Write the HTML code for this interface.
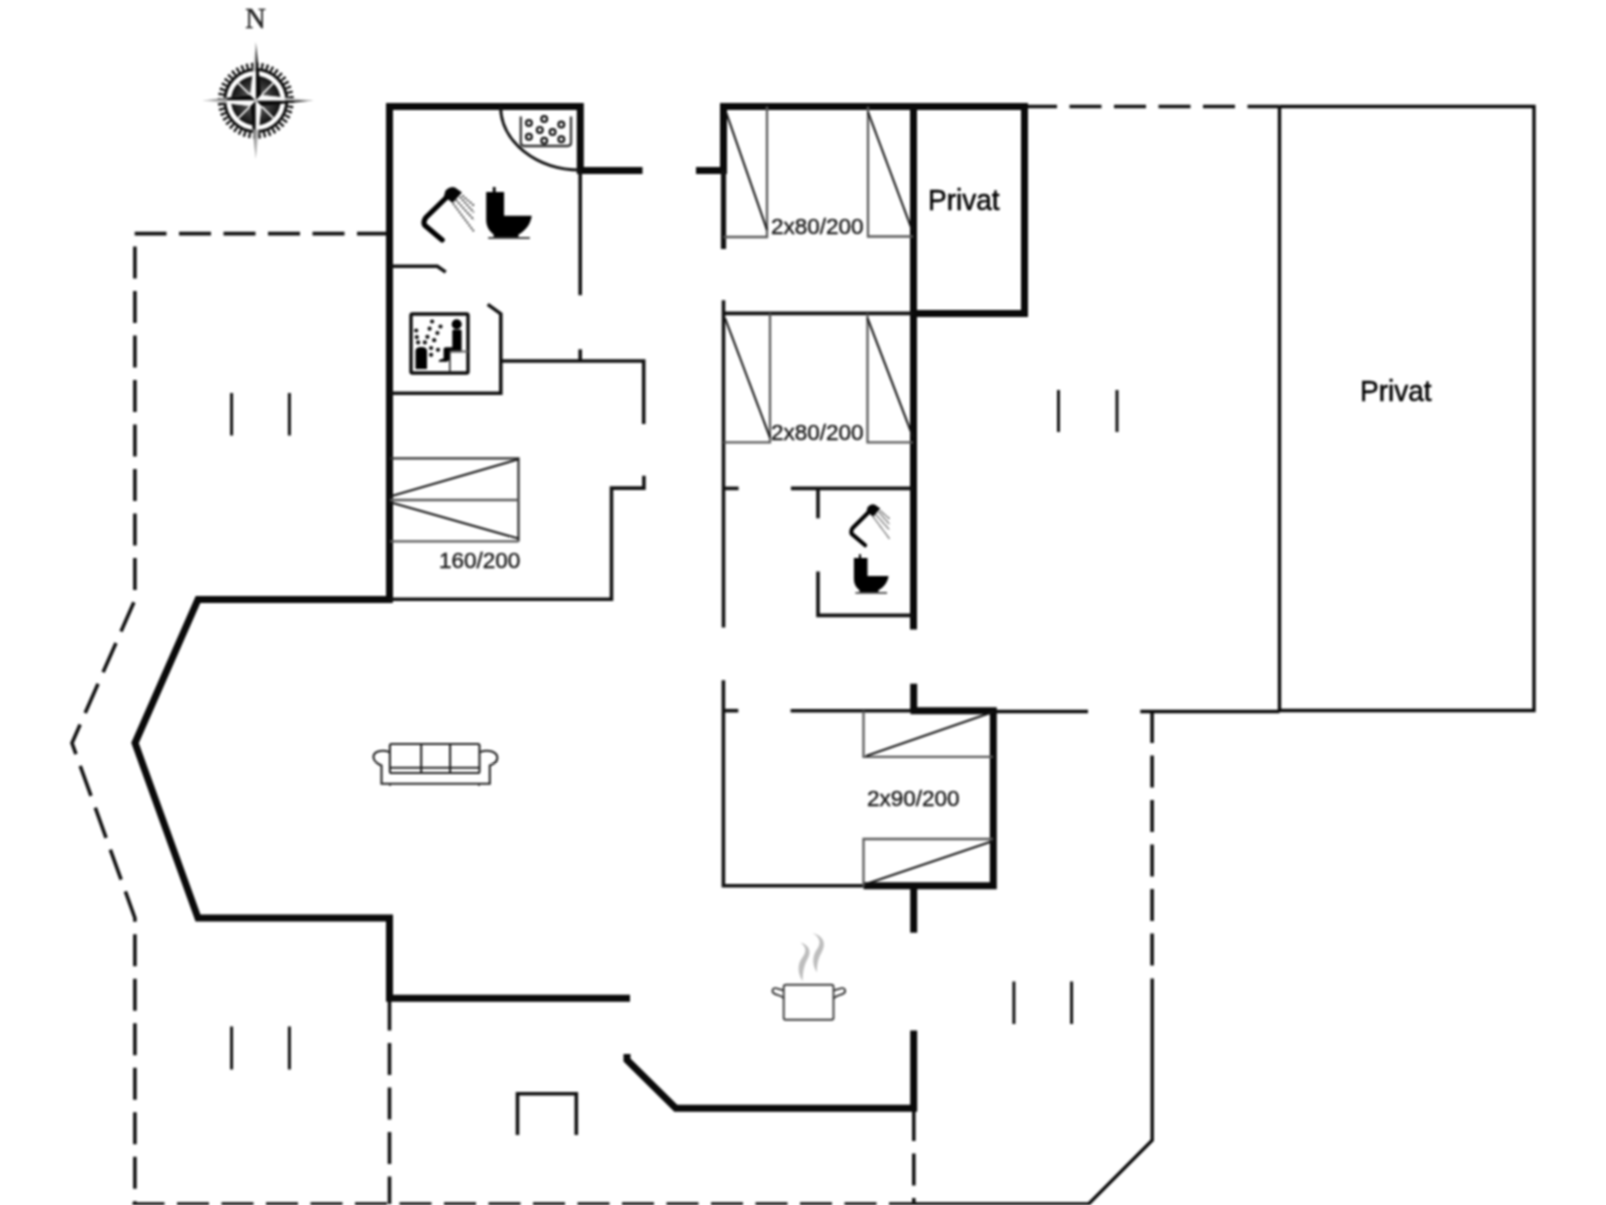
<!DOCTYPE html>
<html><head><meta charset="utf-8"><style>
html,body{margin:0;padding:0;background:#fff;width:1606px;height:1205px;overflow:hidden}
svg{display:block}
#wrap{filter:blur(1px)}
text{font-family:"Liberation Sans",sans-serif}
</style></head><body><div id="wrap">
<svg width="1606" height="1205" viewBox="0 0 1606 1205">
<rect width="1606" height="1205" fill="#fff"/>
<!-- dashed terrace outlines -->
<g fill="none" stroke="#111" stroke-width="3.6" stroke-dasharray="32 12.5" stroke-linejoin="miter">
<path d="M389,233.6 H134.7"/>
<path d="M134.9,246.5 V600 L72,743 L134.9,918 V1204"/>
<path d="M132.5,1204 H913.8"/>
<path d="M389.5,998.5 V1204"/>
<path d="M913.8,1109 V1204"/>
<path d="M1152.1,711 V978"/>
<path d="M1025,106.5 H1279.5"/>
</g>
<!-- solid thin outline -->
<g fill="none" stroke="#0a0a0a" stroke-width="3.4">
<path d="M913.8,1204 H1088.6 L1152.2,1140.3 V978.5"/>
<path d="M1279.5,106.5 H1534 V710.5 H1279.5 V106.5"/>
<path d="M993,711.5 H1088"/>
<path d="M1140.3,711.5 H1279.5"/>
</g>
<!-- thick walls -->
<g fill="none" stroke="#0a0a0a" stroke-width="7" stroke-linejoin="miter" stroke-linecap="butt">
<path d="M389.5,602.5 V106.5 H580.3 V170.5 H642.5"/>
<path d="M696,170.5 H723.5 V106.5 H1024.5 V313.5 H913.5"/>
<path d="M913.5,106.5 V629.5"/>
<path d="M723.5,103.5 V170.5"/>
<path d="M392.5,599.5 H198 L135,743 L198,918 H389.5 V998.3 H630"/>
<path d="M627,1054 V1060 L675.8,1108.3 H913.7 V1030.6"/>
<path d="M913.7,683.7 V710.7"/>
<path d="M913.7,886 V932.7"/>
<path d="M910.5,710.7 H993.3 V885.8 H863.5"/>
</g>
<!-- medium/thin walls -->
<g fill="none" stroke="#111" stroke-width="3.6" stroke-linejoin="miter">
<path d="M723.5,170.5 V249" stroke-width="5.2"/>
<path d="M580.2,170.5 V295.2"/>
<path d="M580.2,349.3 V361"/>
<path d="M390,266.2 H437.3 L445.7,272.1"/>
<path d="M487.7,304.4 L500.8,313.8 V393.2 H390"/>
<path d="M500.8,361 H643.7 V424"/>
<path d="M390,599.3 H611.5 V488.1 H643.9 V475.7"/>
<path d="M723.5,313.4 H913.5"/>
<path d="M723.5,300.3 V627.6"/>
<path d="M723.5,488.4 H738.6"/>
<path d="M790.9,488.4 H913"/>
<path d="M818,488.4 V518.3"/>
<path d="M818,571.5 V615.4 H913"/>
<path d="M723.4,680.3 V885.8 H863.5"/>
<path d="M723.4,710.7 H738.3"/>
<path d="M790.6,710.7 H911"/>
<path d="M517.5,1135 V1093.8 H576.3 V1135"/>
</g>
<!-- ticks -->
<g stroke="#111" stroke-width="3">
<path d="M231.6,393 V435.5 M289.4,393 V435.5"/>
<path d="M1058.5,390 V432 M1117,390 V432"/>
<path d="M231.6,1026.6 V1069.6 M289.4,1026.6 V1069.6"/>
<path d="M1013.9,981.5 V1024 M1071.6,981.5 V1024"/>
</g>
<!-- whirlpool arc -->
<path d="M500.6,106.5 A79.7,63.5 0 0 0 580.3,170" fill="none" stroke="#111" stroke-width="3"/>
<!-- beds -->
<g fill="none" stroke="#5a5a5a" stroke-width="2.3">
<path d="M767,106.5 V237 H723.5"/>
<path d="M726,112 L767,230" stroke="#151515" stroke-width="2.1"/>
<path d="M868,106.5 V236.5 H913"/>
<path d="M868,112 L912,230" stroke="#151515" stroke-width="2.1"/>
<path d="M770,313.4 V442.3 H723.5"/>
<path d="M725,318 L770,437.6" stroke="#151515" stroke-width="2.1"/>
<path d="M867.5,313.4 V442.3 H913"/>
<path d="M867.5,318 L913,437" stroke="#151515" stroke-width="2.1"/>
<path d="M390,458.3 H518.5 V541.4" stroke="#333"/><path d="M518.5,541.4 H390 M390,500 H518.5"/>
<path d="M390,496.6 L518.5,459.2 M390,502.2 L518.5,538.6" stroke="#151515" stroke-width="2.1"/>
<path d="M863.5,710.7 V756.9 H993"/>
<path d="M866,756 L993,712" stroke="#151515" stroke-width="2.1"/>
<path d="M993,839 H863.5 V886"/>
<path d="M866,884 L993,841" stroke="#151515" stroke-width="2.1"/>
</g>
<!-- texts -->
<g fill="#1a1a1a" stroke="#1a1a1a" stroke-width="0.45" font-size="22.5">
<text x="771" y="234">2x80/200</text>
<text x="771" y="440">2x80/200</text>
<text x="439" y="568">160/200</text>
<text x="867" y="806.2">2x90/200</text>
</g>
<g fill="#000" stroke="#000" stroke-width="0.5" font-size="28">
<text transform="translate(928,210.3) scale(1,1.08)">Privat</text>
<text transform="translate(1360,401.3) scale(1,1.08)">Privat</text>
</g>
<text x="255.5" y="28" font-size="28.5" text-anchor="middle" fill="#222" stroke="#222" stroke-width="0.5" style="font-family:'Liberation Serif',serif">N</text>
<!-- compass -->
<defs><clipPath id="cin"><circle cx="0" cy="0" r="29"/></clipPath>
<radialGradient id="cg"><stop offset="0" stop-color="#777"/><stop offset="0.6" stop-color="#3a3a3a"/><stop offset="1" stop-color="#111"/></radialGradient></defs>
<g transform="translate(255.8,100.6)">
<circle r="35" fill="none" stroke="#111" stroke-width="6" stroke-dasharray="2.3 2.7"/>
<circle r="31" fill="none" stroke="#111" stroke-width="3"/>
<circle r="24.8" fill="url(#cg)"/>
<g stroke="#f4f4f4" stroke-width="1.8"><path d="M-17.5,-17.5 L17.5,17.5 M17.5,-17.5 L-17.5,17.5"/></g>
<g fill="#0a0a0a">
<path d="M0,-58.5 L5.5,-5.5 L0,0 Z"/><path d="M57.5,0 L5.5,5.5 L0,0 Z"/>
</g>
<g fill="#8a8a8a"><path d="M0,58.5 L-5.5,5.5 L0,0 Z"/><path d="M-53.5,0 L-5.5,-5.5 L0,0 Z"/></g>
<g fill="#0a0a0a" clip-path="url(#cin)"><path d="M0,58.5 L-5.5,5.5 L0,0 Z"/><path d="M-53.5,0 L-5.5,-5.5 L0,0 Z"/></g>
<g fill="#bdbdbd">
<path d="M0,-58.5 L-5.5,-5.5 L0,0 Z"/><path d="M57.5,0 L5.5,-5.5 L0,0 Z"/><path d="M0,58.5 L5.5,5.5 L0,0 Z"/><path d="M-53.5,0 L-5.5,5.5 L0,0 Z"/>
</g>
<g fill="#fafafa" clip-path="url(#cin)">
<path d="M0,-58.5 L-5.5,-5.5 L0,0 Z"/><path d="M57.5,0 L5.5,-5.5 L0,0 Z"/><path d="M0,58.5 L5.5,5.5 L0,0 Z"/><path d="M-53.5,0 L-5.5,5.5 L0,0 Z"/>
</g>
</g>
<!-- whirlpool -->
<g fill="none">
<path d="M520.8,116.5 V142.5 Q520.8,146 524.5,146 H567.5 Q571,146 571,142.5 V116.5" stroke="#333" stroke-width="2.3"/>
<g stroke="#111" stroke-width="2.2" fill="#fff">
<circle cx="528.9" cy="123" r="2.9"/><circle cx="544.2" cy="119" r="2.9"/><circle cx="561.3" cy="124.6" r="2.9"/>
<circle cx="539.8" cy="129.9" r="2.9"/><circle cx="552.6" cy="132.1" r="2.9"/><circle cx="528.9" cy="136.7" r="2.9"/>
<circle cx="544.2" cy="140.8" r="2.9"/><circle cx="561.3" cy="139.2" r="2.9"/>
</g>
</g>
<!-- shower symbol -->
<g id="shw">
<path d="M442.2,239.9 L425,225.5 Q422.5,222.5 425.9,217.5 L450,194" fill="none" stroke="#000" stroke-width="5.2" stroke-linecap="round" stroke-linejoin="round"/>
<path d="M445.5,190.5 Q450,185.5 455,187.5 L462,192.5 L452.5,203 L444,196 Z" fill="#050505"/>
<g stroke="#3a3a3a" stroke-width="1.9" stroke-dasharray="2 1.3" fill="none">
<path d="M453,203.4 L473.8,231.3"/><path d="M456,200 L473.8,219.8"/><path d="M459.9,197 L473.8,212.4"/><path d="M462.4,195.5 L474.3,205.9"/>
</g>
</g>
<g id="wc">
<path d="M486.2,192 H504.1 V215.8 H531.7 C531,222.5 527,230 518.5,234.5 V237.5 H493.6 V234.5 C489,231 486.2,226 486.2,220 Z" fill="#000"/>
<rect x="492.8" y="187" width="2.8" height="6" fill="#000"/>
<path d="M488.2,238 H529.8" stroke="#444" stroke-width="2.2"/>
</g>
<use href="#shw" transform="translate(526.87,359.38) scale(0.765,0.775)"/>
<use href="#wc" transform="translate(484.39,412.08) scale(0.76)"/>
<!-- sauna -->
<g>
<rect x="411" y="314" width="57" height="59" rx="1.5" fill="none" stroke="#0a0a0a" stroke-width="3.4"/>
<path d="M415.5,369 V351 Q415.5,347 421.2,347 Q427,347 427,351 V369 Z" fill="#000"/>
<g fill="#111">
<circle cx="432.1" cy="321.5" r="2.1"/><circle cx="440.5" cy="326.5" r="2.1"/><circle cx="429.6" cy="328.7" r="2.1"/>
<circle cx="437.4" cy="333" r="2.1"/><circle cx="416.2" cy="330.5" r="2.1"/><circle cx="427.4" cy="336.8" r="2.1"/>
<circle cx="416.8" cy="337.1" r="2.1"/><circle cx="434.2" cy="340.2" r="2.1"/><circle cx="418.1" cy="342.4" r="2.1"/>
<circle cx="424.9" cy="342.4" r="2.1"/><circle cx="431.1" cy="348" r="2.1"/><circle cx="438" cy="349.8" r="2.1"/>
<circle cx="431.1" cy="354.8" r="2.1"/>
</g>
<circle cx="456.7" cy="324.3" r="5" fill="#000"/>
<path d="M452.3,331 Q452.3,329.5 454,329.5 H460 Q461.6,329.5 461.6,331 V352.3 H449.2 V359.8 L447.3,361.7 H438.6 Q438.6,359.4 441,359.2 L443.6,358.5 V349 Q443.6,347.3 446,347.3 H452.3 Z" fill="#000"/>
<path d="M449,351.5 H468" stroke="#666" stroke-width="2"/>
<path d="M449.8,350 V373" stroke="#222" stroke-width="1.6"/>
</g>
<!-- sofa -->
<g fill="none" stroke="#222" stroke-width="2.1">
<rect x="389.9" y="744" width="89.6" height="29" rx="1.5"/>
<path d="M421.2,744 V773 M450.1,744 V773 M389.9,767.8 H479.5"/>
<path d="M389.4,752 C381,749 373,752 373.5,757.5 C374,762 378,764 381.5,765.5 V783.7 H489.8 V765.5 C494,764 497.5,761 497.3,757.5 C497,752 489,749 480,752"/>
<path d="M390,784 V786 M479,784 V786" stroke-width="1.5"/>
</g>
<!-- pot -->
<g fill="none" stroke="#3a3a3a" stroke-width="1.9">
<path d="M783.7,987 Q783.7,984.8 786,984.8 H831.5 Q833.5,984.8 833.5,987 V1018 Q833.5,1019.7 831.5,1019.7 H785.5 Q783.7,1019.7 783.7,1018 Z"/>
<path d="M784,990.5 L776.5,988.3 C772,987.3 771,992.5 775,994 C779,995.5 782,996 784,998.5"/>
<path d="M833.3,990.5 L841,988.3 C845.5,987.3 846.8,992.5 842.5,994 C838.5,995.5 835.5,996 833.3,998.5"/>
</g>
<g fill="#bdbdbd">
<path d="M802.5,981 C797.5,973 797,964 803,956.5 C806.5,951.5 806.5,947 800.5,942.5 C809,945 811.5,951 808,958 C803.5,966 803,972 802.5,981 Z"/>
<path d="M816.8,972.5 C812,964 812,956 817.5,948.5 C821,943 820.5,937.5 812.5,933 C823,935.5 826.5,943 822,951.5 C817.5,959.5 817,965 816.8,972.5 Z"/>
</g>
</svg>
</div></body></html>
